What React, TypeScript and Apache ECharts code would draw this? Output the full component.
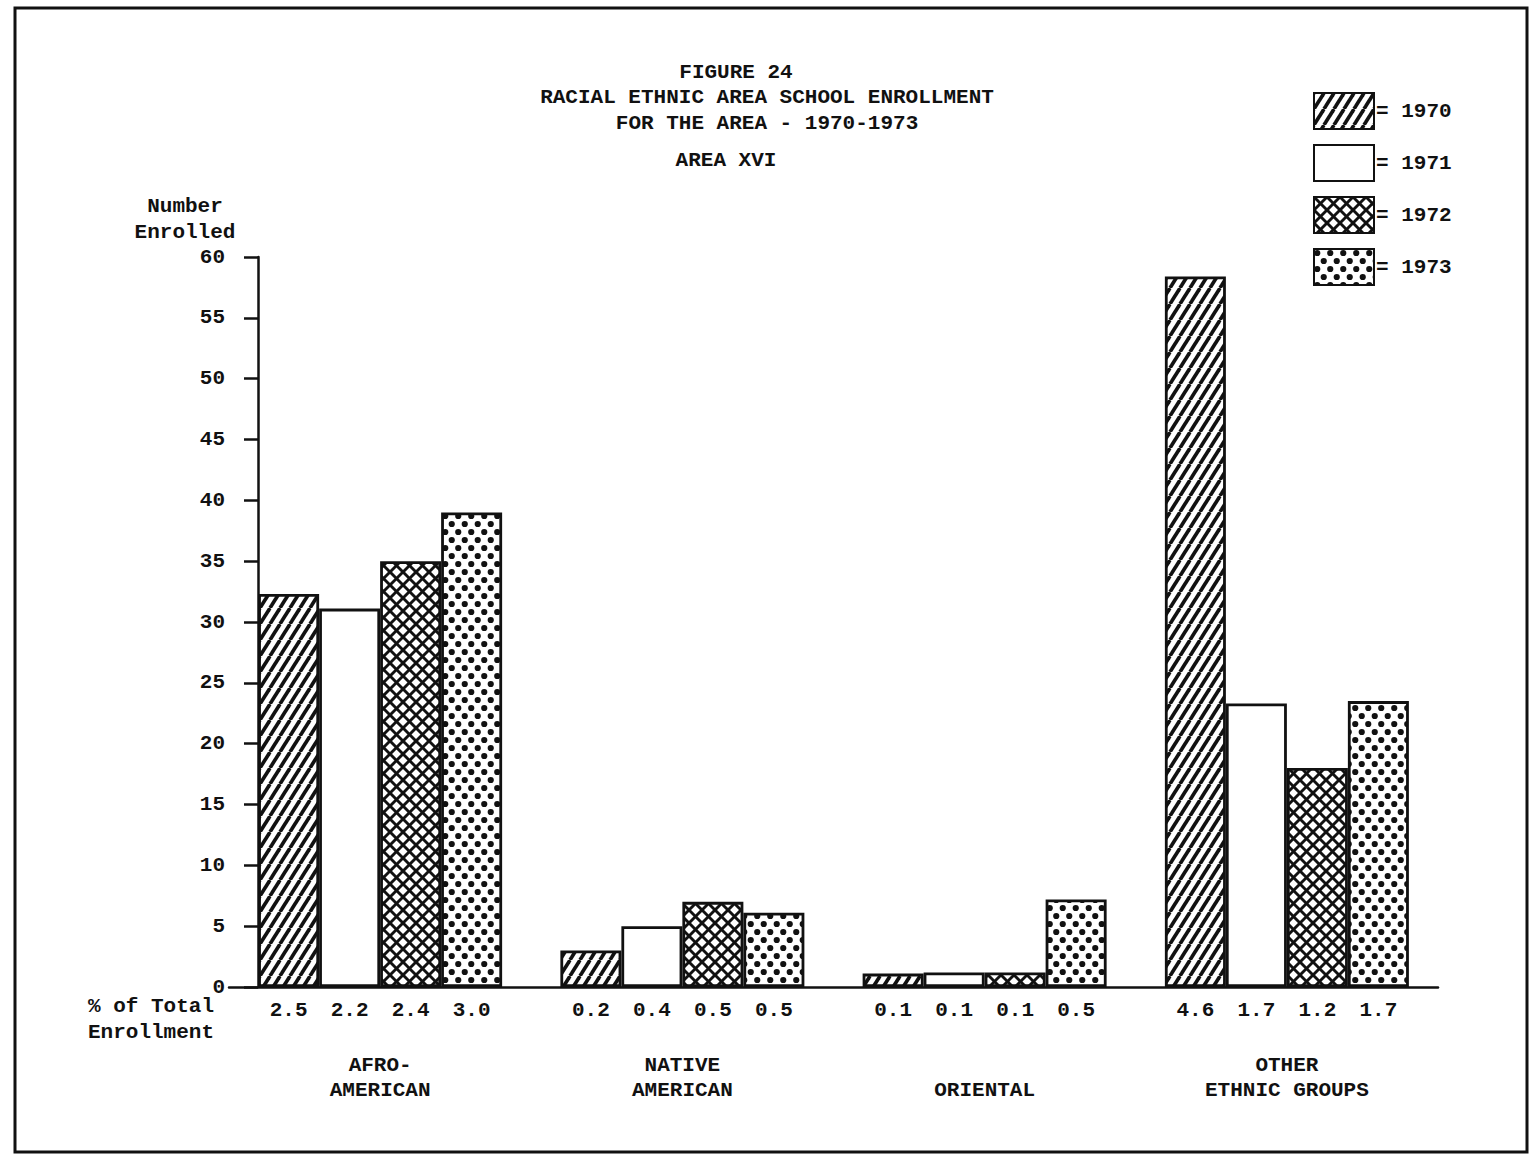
import React, { useEffect, useRef } from "react";
import * as echarts from "echarts";

const categories = ["AFRO-\nAMERICAN", "NATIVE\nAMERICAN", "ORIENTAL", "OTHER\nETHNIC GROUPS"];
const years = ["1970", "1971", "1972", "1973"];
const enrolled1970 = [32.3, 3.0, 1.1, 58.4];
const enrolled1971 = [31.1, 5.0, 1.2, 23.3];
const enrolled1972 = [35.0, 7.0, 1.2, 18.0];
const enrolled1973 = [39.0, 6.1, 7.2, 23.5];
const pct1970 = [2.5, 0.2, 0.1, 4.6];
const pct1971 = [2.2, 0.4, 0.1, 1.7];
const pct1972 = [2.4, 0.5, 0.1, 1.2];
const pct1973 = [3.0, 0.5, 0.5, 1.7];
const figureLabel = "FIGURE 24";
const titleLines = ["RACIAL ETHNIC AREA SCHOOL ENROLLMENT", "FOR THE AREA - 1970-1973"];
const subTitle = "AREA XVI";
const yAxisTitle = "Number\nEnrolled";
const pctTitle = "% of Total\nEnrollment";
const yMin = 0;
const yMax = 60;
const yInterval = 5;

const FONT = "'Liberation Mono', 'DejaVu Sans Mono', monospace";
const INK = "#111";

function makeCanvas(w: number, h: number, draw: (ctx: CanvasRenderingContext2D) => void) {
  const c = document.createElement("canvas");
  c.width = w;
  c.height = h;
  const ctx = c.getContext("2d")!;
  ctx.fillStyle = "#fff";
  ctx.fillRect(0, 0, w, h);
  ctx.strokeStyle = INK;
  ctx.fillStyle = INK;
  draw(ctx);
  return c;
}

function hatchPattern() {
  const w = 10;
  const h = 16;
  return makeCanvas(w, h, (ctx) => {
    ctx.lineWidth = 3.6;
    for (const o of [-w, 0, w]) {
      ctx.beginPath();
      ctx.moveTo(o, h);
      ctx.lineTo(o + w, 0);
      ctx.stroke();
    }
  });
}

function crossPattern() {
  const s = 13;
  return makeCanvas(s, s, (ctx) => {
    ctx.lineWidth = 2.9;
    for (const o of [-s, 0, s]) {
      ctx.beginPath();
      ctx.moveTo(o, s);
      ctx.lineTo(o + s, 0);
      ctx.stroke();
      ctx.beginPath();
      ctx.moveTo(o, 0);
      ctx.lineTo(o + s, s);
      ctx.stroke();
    }
  });
}

function dotPattern() {
  return makeCanvas(13, 16, (ctx) => {
    for (const [x, y] of [[3.25, 4], [9.75, 12]]) {
      ctx.beginPath();
      ctx.arc(x, y, 3.1, 0, Math.PI * 2);
      ctx.fill();
    }
  });
}

export default function App() {
  const ref = useRef<HTMLDivElement>(null);

  useEffect(() => {
    if (!ref.current) return;
    const chart = echarts.init(ref.current, undefined, { renderer: "svg" });
    const enrolled = [enrolled1970, enrolled1971, enrolled1972, enrolled1973];
    const pcts = [pct1970, pct1971, pct1972, pct1973];
    const fills: any[] = [
      { image: hatchPattern(), repeat: "repeat" },
      "#ffffff",
      { image: crossPattern(), repeat: "repeat" },
      { image: dotPattern(), repeat: "repeat" },
    ];
    const textBase = { fontFamily: FONT, fontSize: 21, fontWeight: "bold" as const, color: INK };

    const option: any = {
      animation: false,
      backgroundColor: "#fff",
      textStyle: { fontFamily: FONT },
      grid: { left: 229, top: 257, width: 1209, height: 730, containLabel: false },
      legend: {
        orient: "vertical",
        left: 1308,
        top: 87,
        itemWidth: 60,
        itemHeight: 36,
        itemGap: 14,
        icon: "rect",
        selectedMode: false,
        data: years,
        formatter: "= {name}",
        textStyle: { ...textBase, padding: [0, 0, 0, -3] },
      },
      xAxis: {
        type: "category",
        data: categories,
        axisLine: { show: true, lineStyle: { color: INK, width: 2.5 } },
        axisTick: { show: false },
        axisLabel: {
          ...textBase,
          margin: 116,
          verticalAlign: "bottom",
          lineHeight: 25,
          interval: 0,
        },
      },
      yAxis: {
        type: "value",
        min: yMin,
        max: yMax,
        interval: yInterval,
        offset: -29,
        splitLine: { show: false },
        name: yAxisTitle,
        nameLocation: "end",
        nameGap: 12,
        nameTextStyle: { ...textBase, align: "center", lineHeight: 26, padding: [0, 146, 0, 0] },
        axisLine: { show: true, lineStyle: { color: INK, width: 2.5 } },
        axisTick: { show: true, length: 14, lineStyle: { color: INK, width: 2.5 } },
        axisLabel: { ...textBase, margin: 33 },
      },
      graphic: [
        {
          type: "rect",
          shape: { x: 15, y: 8, width: 1512, height: 1144 },
          style: { fill: "none", stroke: INK, lineWidth: 3 },
          silent: true,
        },
        {
          type: "text",
          x: 736,
          y: 72,
          style: { text: figureLabel, align: "center", verticalAlign: "middle", font: `bold 21px ${FONT}`, fill: INK },
        },
        {
          type: "text",
          x: 767,
          y: 110.5,
          style: {
            text: titleLines.join("\n"),
            align: "center",
            verticalAlign: "middle",
            lineHeight: 25.5,
            font: `bold 21px ${FONT}`,
            fill: INK,
          },
        },
        {
          type: "text",
          x: 726,
          y: 160,
          style: { text: subTitle, align: "center", verticalAlign: "middle", font: `bold 21px ${FONT}`, fill: INK },
        },
        {
          type: "text",
          x: 151,
          y: 1019,
          style: {
            text: pctTitle,
            align: "center",
            verticalAlign: "middle",
            lineHeight: 26,
            font: `bold 21px ${FONT}`,
            fill: INK,
          },
        },
      ],
      series: years.map((y, i) => ({
        type: "bar",
        name: y,
        data: enrolled[i],
        barWidth: 61,
        barGap: "0%",
        itemStyle: { color: fills[i], borderColor: INK, borderWidth: 2.8 },
        emphasis: { disabled: true },
        label: {
          show: true,
          position: "bottom",
          distance: 13,
          formatter: (p: any) => pcts[i][p.dataIndex].toFixed(1),
          ...textBase,
        },
      })),
    };
    chart.setOption(option);
    return () => chart.dispose();
  }, []);

  return (
    <div
      ref={ref}
      style={{ position: "fixed", left: 0, top: 0, width: 1530, height: 1159, background: "#fff" }}
    />
  );
}
